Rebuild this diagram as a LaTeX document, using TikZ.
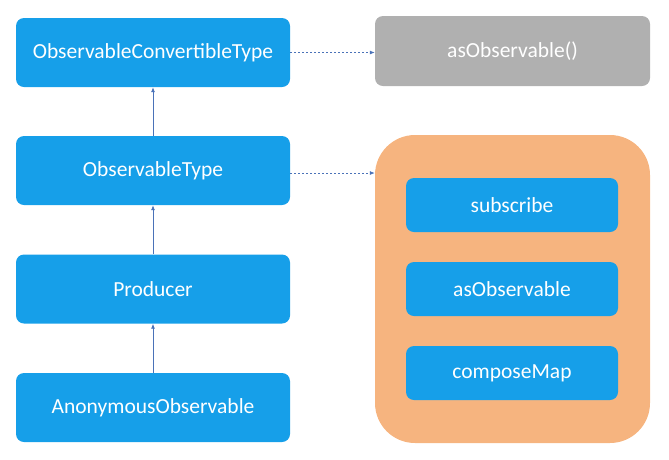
\documentclass[tikz,border=0pt]{standalone}
\usepackage{fontspec}
\setmainfont{Carlito}
\usetikzlibrary{arrows.meta}
\definecolor{boxblue}{HTML}{169FE9}
\definecolor{boxgray}{HTML}{B0B0B0}
\definecolor{boxorange}{HTML}{F6B47F}
\definecolor{lineblue}{HTML}{4A72B8}
\begin{document}
\begin{tikzpicture}[x=1pt,y=-1pt,
  box/.style={rounded corners=8pt,text=white,inner sep=0pt,font=\fontsize{21.5}{24}\selectfont},
  bigbox/.style={box,fill=boxblue,minimum width=274pt,minimum height=69pt},
  smallbox/.style={box,fill=boxblue,minimum width=212pt,minimum height=54pt},
  graybox/.style={box,fill=boxgray,minimum width=275pt,minimum height=70pt},
  orangebox/.style={fill=boxorange,rounded corners=40pt,minimum width=275pt,minimum height=308pt,inner sep=0pt},
  conn/.style={draw=lineblue,line width=0.8pt,-{Latex[length=5pt,width=4pt]}},
  dconn/.style={conn,dashed,dash pattern=on 2pt off 2pt}]
\useasboundingbox (0,0) rectangle (669,459);
\node[bigbox] (oct) at (153,52.5) {ObservableConvertibleType};
\node[bigbox] (ot) at (153,170.5) {ObservableType};
\node[bigbox] (pr) at (153,289) {Producer};
\node[bigbox] (ao) at (153,407.5) {AnonymousObservable};
\node[graybox] (as) at (512.5,51) {asObservable()};
\node[orangebox] (or) at (512.5,289) {};
\node[smallbox] (s1) at (512,205) {subscribe};
\node[smallbox] (s2) at (512,289) {asObservable};
\node[smallbox] (s3) at (512,373) {composeMap};
\draw[conn] (ot.north) -- (oct.south);
\draw[conn] (pr.north) -- (ot.south);
\draw[conn] (ao.north) -- (pr.south);
\draw[dconn] (oct.east) -- (oct.east -| as.west);
\draw[dconn] ([yshift=-2.5pt]ot.east) -- ([yshift=-2.5pt]ot.east -| or.west);
\end{tikzpicture}
\end{document}
